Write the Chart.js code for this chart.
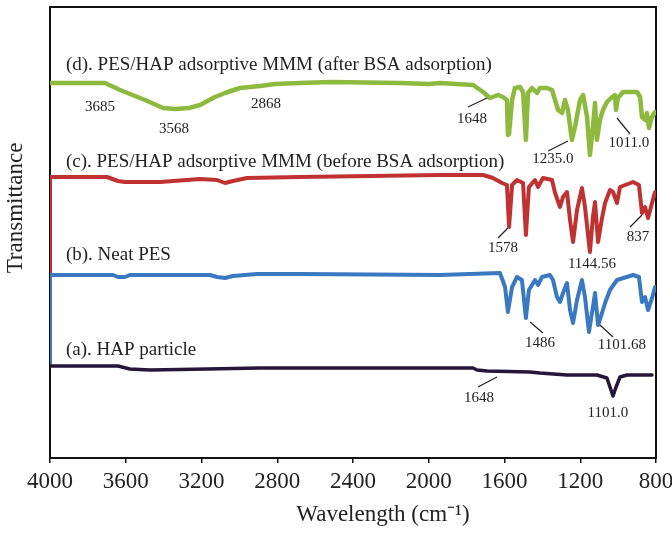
<!DOCTYPE html>
<html>
<head>
<meta charset="utf-8">
<script src="https://cdn.jsdelivr.net/npm/chart.js@4.4.1/dist/chart.umd.min.js"></script>
<style>
  html, body { margin: 0; padding: 0; background: #fff; }
  #wrap { width: 672px; height: 539px; position: relative; }
</style>
</head>
<body>
<div id="wrap"><canvas id="ftir"></canvas></div>
<script>
// wavenumber (cm-1) and offset transmittance (a.u.)
const wnD = [4000,3710,3630,3498,3403,3340,3266,3208,3129,3076,2997,2891,2812,2680,2521,2152,1999,1941,1766,1713,1677,1634,1608,1587,1582,1576,1560,1545,1518,1502,1487,1476,1455,1428,1413,1376,1349,1333,1317,1296,1281,1265,1244,1228,1201,1185,1164,1149,1133,1122,1112,1096,1080,1059,1032,1017,1011,1001,974,900,884,874,858,848,837,821,805];
const tD  = [75.0,75.0,73.6,71.6,70.0,69.8,70.0,70.6,72.2,73.0,74.0,74.4,74.8,75.0,75.2,75.0,74.8,75.0,74.6,73.2,72.0,72.6,72.2,71.6,64.6,64.8,71.6,74.0,74.2,73.2,63.6,73.0,74.0,73.0,74.0,74.0,73.6,71.6,69.6,69.0,71.6,69.6,63.6,66.2,71.6,72.6,68.2,60.6,66.2,71.0,63.6,67.6,69.6,71.2,72.2,72.6,69.6,72.0,73.2,73.2,72.2,68.2,67.6,69.0,66.0,68.2,69.2];

const wnC = [4000,4000,3699,3641,3604,3419,3208,3118,3076,3034,2960,2680,1941,1713,1661,1613,1587,1576,1560,1534,1502,1487,1471,1439,1423,1397,1349,1333,1307,1291,1270,1254,1238,1217,1191,1175,1149,1133,1122,1106,1085,1069,1043,1027,1006,990,921,890,874,858,842,821,805];
const tC  = [36.6,56.2,56.2,55.4,55.2,55.2,55.8,55.6,55.0,55.4,56.0,56.2,56.6,56.6,56.0,55.0,54.6,46.2,54.6,55.6,55.0,44.6,54.2,55.6,54.2,56.0,55.6,53.0,50.2,52.2,53.2,47.6,43.2,49.6,54.0,50.2,41.2,48.2,51.2,43.2,48.0,51.0,53.6,53.2,51.0,54.2,55.2,54.6,49.0,50.2,48.0,51.0,53.2];

const wnB = [4000,4000,3667,3641,3604,3578,3155,3118,3076,3034,2907,2680,1941,1624,1597,1582,1560,1534,1508,1487,1471,1439,1423,1402,1360,1344,1323,1307,1291,1270,1254,1238,1217,1191,1175,1154,1133,1122,1106,1085,1069,1043,1006,921,890,874,858,842,821,805];
const tB  = [18.4,36.6,36.6,36.2,36.2,36.6,36.6,36.2,36.0,36.4,36.8,36.8,36.6,37.0,34.2,29.2,34.2,36.2,35.6,28.0,33.6,35.6,34.6,36.2,36.6,35.6,32.2,31.2,33.0,35.0,29.6,27.0,31.6,35.6,32.2,25.2,30.2,33.0,26.6,29.0,31.0,33.6,35.6,36.6,36.2,31.2,32.2,29.6,32.0,34.2];

const wnA = [4000,3641,3578,3472,3171,2891,1766,1745,1692,1465,1413,1270,1112,1059,1043,1027,1011,990,953,821];
const tA  = [18.4,18.4,17.8,17.6,17.8,18.0,18.0,17.6,17.4,17.2,17.0,16.6,16.6,16.0,14.2,12.4,14.2,16.2,16.6,16.6];

const xTicks = [4000,3600,3200,2800,2400,2000,1600,1200,800];

// curve names, anchored at their left end
const seriesNames = [
  "(d). PES/HAP adsorptive MMM (after BSA adsorption)",
  "(c). PES/HAP adsorptive MMM (before BSA adsorption)",
  "(b). Neat PES",
  "(a). HAP particle"
];
const nameWn = [3916,3916,3916,3916];
const nameT  = [78.6,59.2,40.6,21.6];

// peak labels (centre)
const peakText = ["3685","3568","2868","1648","1235.0","1011.0","1578","1144.56","837","1486","1101.68","1648","1101.0"];
const peakWn   = [3736,3345,2859,1772,1344,943,1608,1138,895,1413,980,1735,1054];
const peakT    = [70.2,65.8,70.8,67.8,59.8,63.0,42.0,38.8,44.2,23.0,22.6,12.0,9.0];

// leader lines from label to peak
const leadWn0 = [1793,1370,1006,1634,937,1465,1096,1740];
const leadT0  = [70.2,61.4,68.0,44.0,46.2,27.2,26.6,14.2];
const leadWn1 = [1692,1265,937,1582,874,1397,1027,1640];
const leadT1  = [72.0,63.4,64.8,46.0,48.6,25.0,24.2,16.2];

const FONT = "'Liberation Serif', 'Times New Roman', serif";
const toXY = (wn, t) => wn.map((w, i) => ({ x: w, y: t[i] }));

const frame = {
  id: "frame",
  beforeDatasetsDraw(chart) {
    const { ctx, chartArea: a } = chart;
    ctx.save();
    ctx.strokeStyle = "#111";
    ctx.lineWidth = 2;
    ctx.strokeRect(a.left, a.top, a.right - a.left, a.bottom - a.top);
    ctx.restore();
  },
  afterDraw(chart) {
    const { ctx, scales, chartArea: a } = chart;
    const x = scales.x, y = scales.y;
    ctx.save();
    ctx.fillStyle = "#222";
    ctx.textBaseline = "middle";

    // x tick labels
    ctx.font = "23px " + FONT;
    ctx.textAlign = "center";
    xTicks.forEach((v) => {
      ctx.fillText(String(v), x.getPixelForValue(v), a.bottom + 24);
    });

    ctx.font = "19px " + FONT;
    ctx.textAlign = "left";
    seriesNames.forEach((s, i) => {
      ctx.fillText(s, x.getPixelForValue(nameWn[i]), y.getPixelForValue(nameT[i]));
    });

    ctx.font = "15px " + FONT;
    ctx.textAlign = "center";
    peakText.forEach((s, i) => {
      ctx.fillText(s, x.getPixelForValue(peakWn[i]), y.getPixelForValue(peakT[i]));
    });

    ctx.strokeStyle = "#222";
    ctx.lineWidth = 1.2;
    leadWn0.forEach((w, i) => {
      ctx.beginPath();
      ctx.moveTo(x.getPixelForValue(w), y.getPixelForValue(leadT0[i]));
      ctx.lineTo(x.getPixelForValue(leadWn1[i]), y.getPixelForValue(leadT1[i]));
      ctx.stroke();
    });

    // axis titles
    ctx.font = "23px " + FONT;
    ctx.fillText("Wavelength (cm\u207B\u00B9)", 383, 515);
    ctx.translate(16, 208);
    ctx.rotate(-Math.PI / 2);
    ctx.fillText("Transmittance", 0, 0);
    ctx.restore();
  }
};

const line = (data, color, w) => ({
  data, borderColor: color, borderWidth: w, pointRadius: 0,
  tension: 0, borderJoinStyle: "round", borderCapStyle: "round", fill: false
});

new Chart(document.getElementById("ftir"), {
  type: "line",
  data: {
    datasets: [
      line(toXY(wnA, tA), "#25163a", 3.5),
      line(toXY(wnB, tB), "#3a78c2", 4),
      line(toXY(wnC, tC), "#c03232", 4),
      line(toXY(wnD, tD), "#8dba3e", 4.5)
    ]
  },
  options: {
    responsive: true,
    maintainAspectRatio: false,
    animation: false,
    layout: { padding: { left: 50, right: 16, top: 7, bottom: 76 } },
    plugins: { legend: { display: false }, tooltip: { enabled: false } },
    scales: {
      x: {
        type: "linear",
        reverse: true,
        min: 800,
        max: 4000,
        afterBuildTicks: (s) => { s.ticks = xTicks.map((v) => ({ value: v })); },
        grid: { display: true, drawOnChartArea: false, drawTicks: true, tickLength: 5, color: "#111", lineWidth: 1.5 },
        border: { display: true, color: "#111", width: 2 },
        ticks: { display: false }
      },
      y: { display: false, min: 0, max: 90.2 }
    }
  },
  plugins: [frame]
});
</script>
</body>
</html>
